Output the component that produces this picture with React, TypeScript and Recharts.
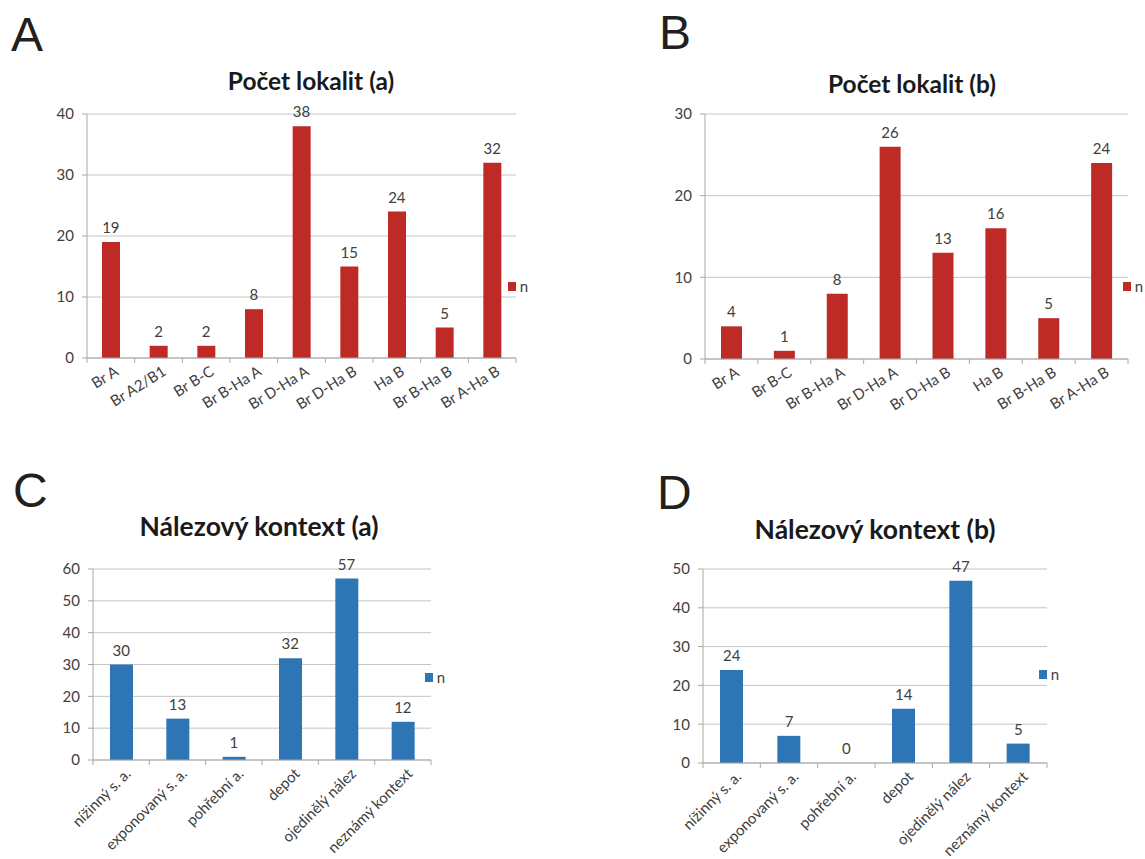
import React from 'react'
import { Bar, CartesianGrid, ComposedChart, LabelList, Legend, Line, XAxis, YAxis } from 'recharts'

const lokalityA = ['Br A', 'Br A2/B1', 'Br B-C', 'Br B-Ha A', 'Br D-Ha A', 'Br D-Ha B', 'Ha B', 'Br B-Ha B', 'Br A-Ha B']
const pocetA = [19, 2, 2, 8, 38, 15, 24, 5, 32]

const lokalityB = ['Br A', 'Br B-C', 'Br B-Ha A', 'Br D-Ha A', 'Br D-Ha B', 'Ha B', 'Br B-Ha B', 'Br A-Ha B']
const pocetB = [4, 1, 8, 26, 13, 16, 5, 24]

const kontexty = ['nížinný s. a.', 'exponovaný s. a.', 'pohřební a.', 'depot', 'ojedinělý nález', 'neznámý kontext']
const kontextA = [30, 13, 1, 32, 57, 12]
const kontextB = [24, 7, 0, 14, 47, 5]

const ticksA = [0, 10, 20, 30, 40]
const ticksB = [0, 10, 20, 30]
const ticksC = [0, 10, 20, 30, 40, 50, 60]
const ticksD = [0, 10, 20, 30, 40, 50]

const RED = '#BE2B27'
const BLUE = '#2E75B6'
const GRID = '#c4c4c4'
const AXIS = '#a8a8a8'
const TEXT = '#404040'
const FONT = 'Lato, "Open Sans", sans-serif'

interface PanelProps {
  letter: string
  title: string
  categories: string[]
  values: number[]
  ticks: number[]
  color: string
  box: { left: number; top: number; width: number; height: number }
  margin: { top: number; right: number; bottom: number; left: number }
  letterPos: { left: number; top: number }
  titlePos: { cx: number; top: number; size: number }
  legendPos: { left: number; top: number }
  barSize: number
  xAngle: number
  xFont: number
  xHeight: number
}

function LegendN({ payload }: any) {
  const items = (payload || []).filter((e: any) => e.type !== 'none')
  return (
    <div style={{ display: 'flex', alignItems: 'center', whiteSpace: 'nowrap', fontFamily: FONT, fontSize: 15, color: TEXT }}>
      {items.map((e: any) => (
        <React.Fragment key={e.value}>
          <span style={{ display: 'inline-block', width: 9, height: 9, background: e.color, marginRight: 4 }} />
          <span>{e.value}</span>
        </React.Fragment>
      ))}
    </div>
  )
}

// category tick: rotated label plus short marks on the band edges (Excel style)
const TICK = 5
const GAP = 2
function CatTick({ x, y, payload, index, visibleTicksCount, angle, font }: any) {
  const half = payload?.offset ?? 0
  const axisY = y - TICK - GAP
  const last = index === visibleTicksCount - 1
  return (
    <g>
      <line x1={x - half} x2={x - half} y1={axisY} y2={axisY + TICK} stroke={AXIS} />
      {last && <line x1={x + half} x2={x + half} y1={axisY} y2={axisY + TICK} stroke={AXIS} />}
      <text
        x={x + 3}
        y={y}
        dy="0.72em"
        textAnchor="end"
        transform={`rotate(${angle}, ${x + 3}, ${y})`}
        fill={TEXT}
        fontSize={font}
        fontFamily={FONT}
      >
        {payload.value}
      </text>
    </g>
  )
}

function Panel(p: PanelProps) {
  const data = p.categories.map((c, i) => ({ cat: c, n: p.values[i] }))
  return (
    <>
      <div
        style={{
          position: 'absolute',
          left: p.letterPos.left,
          top: p.letterPos.top,
          fontFamily: '"Liberation Sans", Arial, sans-serif',
          fontSize: 48,
          lineHeight: '48px',
          color: '#231f20',
        }}
      >
        {p.letter}
      </div>
      <div
        style={{
          position: 'absolute',
          left: p.titlePos.cx - 200,
          width: 400,
          top: p.titlePos.top,
          textAlign: 'center',
          fontFamily: FONT,
          fontWeight: 700,
          fontSize: p.titlePos.size,
          lineHeight: 1,
          color: '#1a1a1a',
        }}
      >
        {p.title}
      </div>
      <div style={{ position: 'absolute', left: p.box.left, top: p.box.top }}>
        <ComposedChart width={p.box.width} height={p.box.height} data={data} margin={p.margin}>
          <CartesianGrid vertical={false} stroke={GRID} />
          <XAxis
            dataKey="cat"
            interval={0}
            axisLine={{ stroke: AXIS }}
            tickLine={false}
            tickSize={TICK}
            tickMargin={GAP}
            height={p.xHeight}
            tick={<CatTick angle={p.xAngle} font={p.xFont} />}
          />
          <YAxis
            domain={[0, p.ticks[p.ticks.length - 1]]}
            ticks={p.ticks}
            interval={0}
            width={40}
            tickSize={5}
            tickMargin={8}
            axisLine={{ stroke: AXIS }}
            tickLine={{ stroke: AXIS }}
            tick={{ fill: TEXT, fontSize: 15, fontFamily: FONT }}
          />
          <Legend
            layout="vertical"
            align="center"
            verticalAlign="middle"
            content={<LegendN />}
            wrapperStyle={{ left: p.legendPos.left - p.box.left, top: p.legendPos.top - p.box.top, width: 20 }}
          />
          <Bar dataKey="n" name="n" fill={p.color} barSize={p.barSize} isAnimationActive={false} />
          {/* value labels ride on an invisible line so that zero counts get one too */}
          <Line
            dataKey="n"
            stroke="none"
            dot={false}
            activeDot={false}
            legendType="none"
            isAnimationActive={false}
          >
            <LabelList dataKey="n" position="top" offset={9} fill={TEXT} fontSize={15} fontFamily={FONT} />
          </Line>
        </ComposedChart>
      </div>
    </>
  )
}

export default function App() {
  return (
    <div style={{ position: 'relative', width: 1145, height: 859, background: '#fff', overflow: 'hidden' }}>
      <style>{'html, body { margin: 0; overflow: hidden; }'}</style>
      <Panel
        letter="A"
        title="Počet lokalit (a)"
        categories={lokalityA}
        values={pocetA}
        ticks={ticksA}
        color={RED}
        box={{ left: 0, top: 100, width: 560, height: 330 }}
        margin={{ top: 14, right: 44, bottom: 12, left: 47 }}
        letterPos={{ left: 11, top: 11 }}
        titlePos={{ cx: 311, top: 69, size: 24.5 }}
        legendPos={{ left: 508, top: 277 }}
        barSize={18}
        xAngle={-32}
        xFont={15}
        xHeight={60}
      />
      <Panel
        letter="B"
        title="Počet lokalit (b)"
        categories={lokalityB}
        values={pocetB}
        ticks={ticksB}
        color={RED}
        box={{ left: 600, top: 100, width: 545, height: 330 }}
        margin={{ top: 14, right: 17, bottom: 11, left: 65 }}
        letterPos={{ left: 659, top: 9 }}
        titlePos={{ cx: 912, top: 72, size: 24.5 }}
        legendPos={{ left: 1123, top: 277 }}
        barSize={21}
        xAngle={-32}
        xFont={15}
        xHeight={60}
      />
      <Panel
        letter="C"
        title="Nálezový kontext (a)"
        categories={kontexty}
        values={kontextA}
        ticks={ticksC}
        color={BLUE}
        box={{ left: 0, top: 550, width: 560, height: 309 }}
        margin={{ top: 19, right: 129, bottom: 9, left: 53 }}
        letterPos={{ left: 13, top: 467 }}
        titlePos={{ cx: 259, top: 513, size: 26.5 }}
        legendPos={{ left: 425, top: 668 }}
        barSize={23}
        xAngle={-45}
        xFont={15}
        xHeight={90}
      />
      <Panel
        letter="D"
        title="Nálezový kontext (b)"
        categories={kontexty}
        values={kontextB}
        ticks={ticksD}
        color={BLUE}
        box={{ left: 600, top: 550, width: 545, height: 309 }}
        margin={{ top: 19, right: 98, bottom: 6, left: 63 }}
        letterPos={{ left: 657, top: 469 }}
        titlePos={{ cx: 875, top: 516, size: 26.5 }}
        legendPos={{ left: 1039, top: 665 }}
        barSize={23}
        xAngle={-45}
        xFont={15}
        xHeight={90}
      />
    </div>
  )
}
